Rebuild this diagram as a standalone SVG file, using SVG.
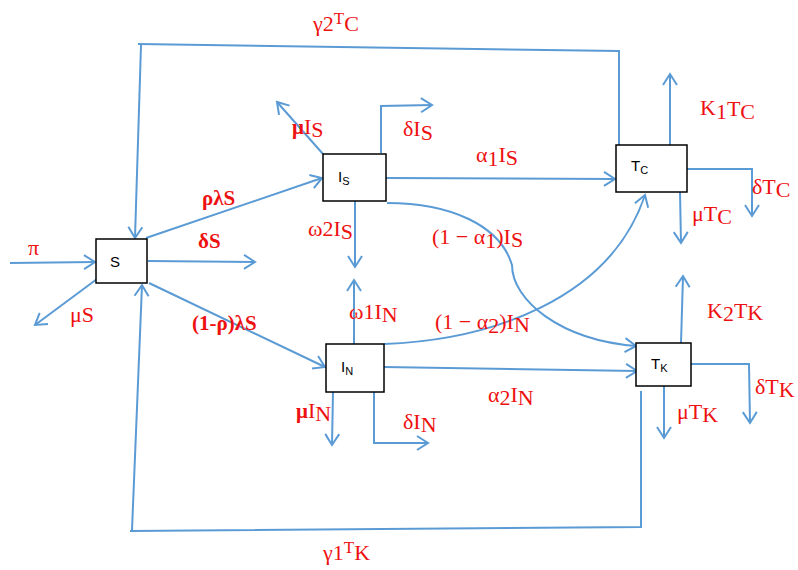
<svg xmlns="http://www.w3.org/2000/svg" width="798" height="570" viewBox="0 0 798 570">
  <style>
    .box { fill: #ffffff; stroke: #000000; stroke-width: 1.5; }
    .name { font-family: "Liberation Sans", Arial, sans-serif; font-size: 15px; fill: #000000; }
    .sub { font-size: 11px; }
    .flow { fill: none; stroke: #5B9BD5; stroke-width: 2; }
    .arr { marker-end: url(#head); }
    .lab { font-family: "Liberation Serif", "DejaVu Serif", serif; font-size: 22px; fill: #EE1111; }
    .b { font-weight: bold; font-size: 21px; }
  </style>
  <defs>
    <marker id="head" markerUnits="userSpaceOnUse" markerWidth="14" markerHeight="16" refX="11" refY="7" orient="auto" overflow="visible">
      <path d="M0,0 L11,7 L0,14" fill="none" stroke="#5B9BD5" stroke-width="2"/>
    </marker>
  </defs>

  <!-- connectors -->
  <g id="connectors">
    <!-- recovery loops back to S -->
    <polyline class="flow" points="619,145 619,51 138,44"/>
    <path class="flow arr" d="M141,45 L135,238"/>
    <polyline class="flow" points="641,391 641,527 130,531"/>
    <path class="flow arr" d="M132,530 L142,285"/>

    <!-- S flows -->
    <path class="flow arr" d="M10,263 L95,262"/>
    <path class="flow arr" d="M97,279 L35,325"/>
    <path class="flow arr" d="M148,261 L255,262"/>
    <path class="flow arr" d="M146,238 L322,178"/>
    <path class="flow arr" d="M149,283 L325,367"/>

    <!-- I_S flows -->
    <path class="flow arr" d="M323,154 L277,102"/>
    <path class="flow arr" d="M381,153 L381,106 L432,105"/>
    <path class="flow arr" d="M386,178 L615,179"/>
    <path class="flow arr" d="M355,201 L355,267"/>
    <path class="flow arr" d="M387,203 C450,203 500,225 512,265 C512,300 560,340 636,346"/>

    <!-- I_N flows -->
    <path class="flow arr" d="M354,344 L354,280"/>
    <path class="flow arr" d="M384,344 C490,340 610,300 645,195"/>
    <path class="flow arr" d="M384,367 L637,371"/>
    <path class="flow arr" d="M333,392 L332,445"/>
    <path class="flow arr" d="M374,392 L374,443 L428,443"/>

    <!-- T_C flows -->
    <path class="flow arr" d="M670,145 L670,74"/>
    <path class="flow arr" d="M687,169 L752,169 L752,216"/>
    <path class="flow arr" d="M680,192 L681,243"/>

    <!-- T_K flows -->
    <path class="flow arr" d="M681,343 L683,276"/>
    <path class="flow arr" d="M691,364 L749,364 L750,423"/>
    <path class="flow arr" d="M664,386 L664,438"/>
  </g>

  <!-- compartments -->
  <g id="node-S">
    <rect class="box" x="96" y="239" width="51" height="44"/>
    <text class="name" x="110" y="267">S</text>
  </g>
  <g id="node-IS">
    <rect class="box" x="323" y="154" width="63" height="47"/>
    <text class="name" x="338" y="182">I<tspan class="sub" dy="3">S</tspan></text>
  </g>
  <g id="node-IN">
    <rect class="box" x="326" y="344" width="58" height="48"/>
    <text class="name" x="341" y="372">I<tspan class="sub" dy="3">N</tspan></text>
  </g>
  <g id="node-TC">
    <rect class="box" x="616" y="145" width="71" height="47"/>
    <text class="name" x="631" y="171">T<tspan class="sub" dy="3">C</tspan></text>
  </g>
  <g id="node-TK">
    <rect class="box" x="636" y="343" width="55" height="43"/>
    <text class="name" x="651" y="369">T<tspan class="sub" dy="3">K</tspan></text>
  </g>

  <!-- rate labels -->
  <g id="labels">
    <text class="lab" x="313" y="31">γ2<tspan font-size="17" dy="-7">T</tspan><tspan dy="7">C</tspan></text>
    <text class="lab" x="323" y="560">γ1<tspan font-size="17" dy="-7">T</tspan><tspan dy="7">K</tspan></text>

    <text class="lab" x="28" y="255">π</text>
    <text class="lab" x="70" y="322">μS</text>
    <text class="lab b" x="198" y="248">δS</text>
    <text class="lab b" x="202" y="205">ρλS</text>
    <text class="lab b" x="192" y="330">(1-ρ)λS</text>

    <text class="lab" x="292" y="134"><tspan class="b">μ</tspan>I<tspan dy="3">S</tspan></text>
    <text class="lab" x="403" y="136">δI<tspan dy="4">S</tspan></text>
    <text class="lab" x="476" y="162">α<tspan dy="4">1</tspan><tspan dy="-4">I</tspan><tspan dy="3">S</tspan></text>
    <text class="lab" x="308" y="236">ω2I<tspan dy="3">S</tspan></text>
    <text class="lab" x="432" y="244">(1 − α<tspan dy="4">1</tspan><tspan dy="-4">)I</tspan><tspan dy="3">S</tspan></text>

    <text class="lab" x="349" y="319">ω1I<tspan dy="3">N</tspan></text>
    <text class="lab" x="435" y="329">(1 − α<tspan dy="4">2</tspan><tspan dy="-4">)I</tspan><tspan dy="3">N</tspan></text>
    <text class="lab" x="488" y="402">α<tspan dy="3">2</tspan><tspan dy="-3">I</tspan><tspan dy="3">N</tspan></text>
    <text class="lab" x="296" y="418"><tspan class="b">μ</tspan>I<tspan dy="3">N</tspan></text>
    <text class="lab" x="403" y="429">δI<tspan dy="3">N</tspan></text>

    <text class="lab" x="700" y="115">K<tspan dy="4">1</tspan><tspan dy="-3">T</tspan><tspan dy="3">C</tspan></text>
    <text class="lab" x="692" y="221">μT<tspan dy="3">C</tspan></text>
    <text class="lab" x="752" y="194">δT<tspan dy="3">C</tspan></text>

    <text class="lab" x="707" y="318">K<tspan dy="3">2</tspan><tspan dy="-3">T</tspan><tspan dy="2">K</tspan></text>
    <text class="lab" x="755" y="394">δT<tspan dy="3">K</tspan></text>
    <text class="lab" x="677" y="419">μT<tspan dy="3">K</tspan></text>
  </g>
</svg>
